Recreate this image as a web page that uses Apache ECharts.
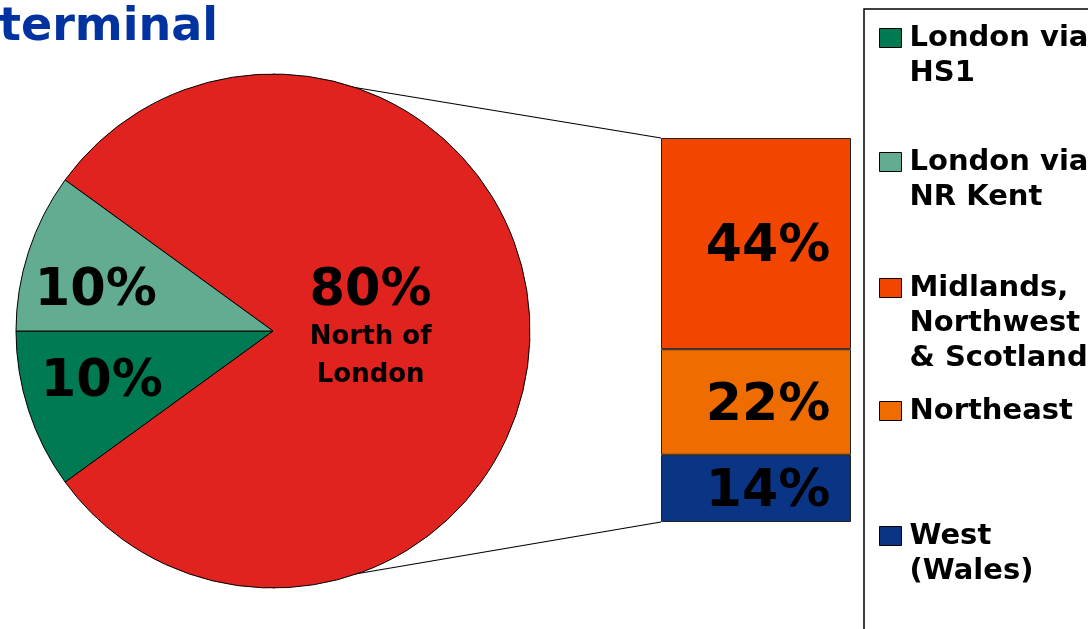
<!DOCTYPE html>
<html>
<head>
<meta charset="utf-8">
<script src="https://cdn.jsdelivr.net/npm/echarts@6/dist/echarts.min.js"></script>
<style>
  html, body { margin: 0; padding: 0; background: #fff; }
  #main { width: 1088px; height: 629px; }
</style>
</head>
<body>
<div id="main"></div>
<script>
// pie: share of passengers by destination
const pieNames = ['North of London', 'London via HS1', 'London via NR Kent'];
const pieValues = [80, 10, 10];
const pieColors = ['#E0231F', '#007A52', '#62AD92'];

// bar: breakdown of the 80% north of London
const barNames = ['West (Wales)', 'Northeast', 'Midlands, Northwest & Scotland'];
const barValues = [14, 22, 44];
const barColors = ['#0A3484', '#EE6C00', '#F24500'];

// legend order and wrapped labels
const legendNames = ['London via HS1', 'London via NR Kent', 'Midlands, Northwest & Scotland', 'Northeast', 'West (Wales)'];
const legendLabels = ['London via\nHS1', 'London via\nNR Kent', 'Midlands,\nNorthwest\n& Scotland', 'Northeast', 'West\n(Wales)'];

const FONT = 'DejaVu Sans';
const pieCenter = [273, 331];
const pieRadius = 257;
const pieStart = 144;
const gridBox = { left: 661, top: 138, width: 190, height: 384 };

const legendLine = 35;
const legendIconCenters = [38, 162, 288, 411, 536];

var chart = echarts.init(document.getElementById('main'));

var legends = legendNames.map(function (name, i) {
  var n = legendLabels[i].split('\n').length;
  var h = (2 * n - 1) * legendLine;
  return {
    data: [name],
    orient: 'vertical',
    left: 879,
    top: legendIconCenters[i] - h / 2,
    padding: 0,
    itemWidth: 22,
    itemHeight: 19,
    icon: 'rect',
    selectedMode: false,
    itemStyle: { borderColor: '#000', borderWidth: 1 },
    formatter: function () {
      return '\n'.repeat(n - 1) + legendLabels[i];
    },
    textStyle: {
      fontFamily: FONT, fontWeight: 'bold', fontSize: 29,
      lineHeight: legendLine, color: '#000', padding: [0, 0, 0, 3]
    }
  };
});

// pie label placement: fraction of radius along the slice's middle angle, plus a nudge
var pieLabelRatio = [0.38, 0.7, 0.7];
var pieLabelNudge = [[0, -1], [0, -4], [-6, 16]];
var total = pieValues.reduce(function (a, b) { return a + b; }, 0);
var pieLabelPos = [];
var acc = 0;
pieValues.forEach(function (v, i) {
  var mid = (pieStart - (acc + v / 2) / total * 360) * Math.PI / 180;
  acc += v;
  var k = pieLabelRatio[i] * pieRadius;
  pieLabelPos.push([
    pieCenter[0] + k * Math.cos(mid) + pieLabelNudge[i][0],
    pieCenter[1] - k * Math.sin(mid) + pieLabelNudge[i][1]
  ]);
});

var barSeries = barNames.map(function (name, i) {
  return {
    name: name,
    type: 'bar',
    stack: 'north',
    barWidth: '100%',
    data: [barValues[i]],
    itemStyle: { color: barColors[i], borderColor: '#222', borderWidth: 1 },
    label: {
      show: true,
      position: 'inside',
      offset: [12, 4],
      formatter: '{c}%',
      fontFamily: FONT, fontWeight: 'bold', fontSize: 52, color: '#000'
    }
  };
});

var option = {
  animation: false,
  title: {
    text: 'terminal',
    left: -1,
    top: 5,
    padding: 0,
    textStyle: { fontFamily: FONT, fontWeight: 'bold', fontSize: 46, color: '#0033A0' }
  },
  legend: legends,
  grid: { left: gridBox.left, top: gridBox.top, width: gridBox.width, height: gridBox.height },
  xAxis: { type: 'category', data: ['north'], show: false },
  yAxis: { type: 'value', min: 0, max: 80, show: false },
  series: [
    {
      name: 'share',
      type: 'pie',
      center: pieCenter,
      radius: pieRadius,
      startAngle: pieStart,
      clockwise: true,
      avoidLabelOverlap: false,
      emphasis: { disabled: true },
      data: pieNames.map(function (name, i) {
        return { name: name, value: pieValues[i], itemStyle: { color: pieColors[i] } };
      }),
      itemStyle: { borderColor: '#000', borderWidth: 1 },
      label: {
        show: true,
        position: 'inside',
        align: 'center',
        verticalAlign: 'middle',
        color: '#000',
        fontFamily: FONT,
        fontWeight: 'bold',
        formatter: function (p) {
          if (p.dataIndex === 0) return '{p|' + p.value + '%}\n{n|North of}\n{n|London}';
          return '{p|' + p.value + '%}';
        },
        rich: {
          p: { fontFamily: FONT, fontWeight: 'bold', fontSize: 51, lineHeight: 52, color: '#000' },
          n: { fontFamily: FONT, fontWeight: 'bold', fontSize: 26, lineHeight: 38, color: '#000' }
        }
      },
      labelLine: { show: false },
      labelLayout: function (params) {
        var pos = pieLabelPos[params.dataIndex];
        return { x: pos[0], y: pos[1], align: 'center', verticalAlign: 'middle' };
      }
    }
  ].concat(barSeries)
};

chart.setOption(option);

// connector lines from the pie to the bar, plus the legend frame
var barTop = chart.convertToPixel({ yAxisIndex: 0 }, 80);
var barBottom = chart.convertToPixel({ yAxisIndex: 0 }, 0);
chart.setOption({
  graphic: [
    {
      type: 'line', silent: true,
      shape: { x1: pieCenter[0], y1: pieCenter[1] - pieRadius, x2: gridBox.left, y2: barTop },
      style: { stroke: '#000', lineWidth: 1.2 }
    },
    {
      type: 'line', silent: true,
      shape: { x1: pieCenter[0], y1: pieCenter[1] + pieRadius, x2: gridBox.left, y2: barBottom },
      style: { stroke: '#000', lineWidth: 1.2 }
    },
    {
      type: 'rect', silent: true,
      shape: { x: 864, y: 9, width: 400, height: 700 },
      style: { fill: 'none', stroke: '#000', lineWidth: 1.5 }
    }
  ]
});
</script>
</body>
</html>
